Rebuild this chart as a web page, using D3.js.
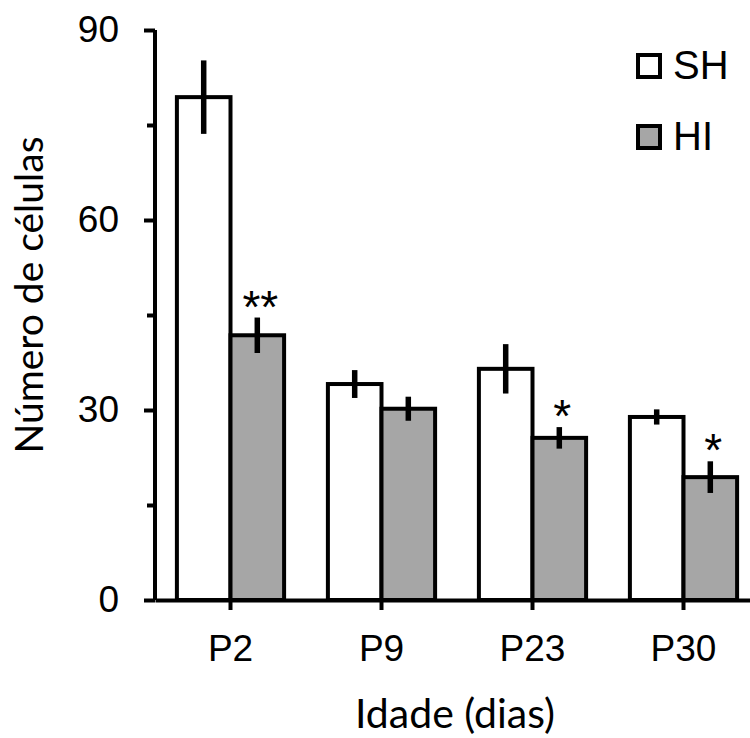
<!DOCTYPE html>
<html>
<head>
<meta charset="utf-8">
<script src="https://cdn.jsdelivr.net/npm/d3@7"></script>
<style>
  html, body { margin: 0; padding: 0; background: #fff; }
  svg { display: block; }
</style>
</head>
<body>
<svg id="chart" width="750" height="738"></svg>
<script>
const categories = ["P2", "P9", "P23", "P30"];
const seriesNames = ["SH", "HI"];
const shValues = [79.4, 34.1, 36.5, 28.9];
const hiValues = [41.8, 30.2, 25.6, 19.4];
const shErrors = [5.8, 2.2, 3.9, 1.2];
const hiErrors = [2.8, 1.9, 1.7, 2.5];
const hiSignificance = ["**", "", "*", "*"];
const yMajorTicks = [0, 30, 60, 90];
const yMinorTicks = [15, 45, 75];

const svg = d3.select("#chart");

const x0 = d3.scaleBand().domain(categories).range([155, 759]).paddingInner(0.29).paddingOuter(0.145);
const x1 = d3.scaleBand().domain(seriesNames).range([0, x0.bandwidth()]);
const y = d3.scaleLinear().domain([0, 90]).range([600, 30]);
const fills = { SH: "#ffffff", HI: "#a6a6a6" };

const rows = categories.map((c, i) => ({
  cat: c,
  bars: [
    { s: "SH", v: shValues[i], e: shErrors[i], sig: "" },
    { s: "HI", v: hiValues[i], e: hiErrors[i], sig: hiSignificance[i] }
  ]
}));

const g = svg.append("g");

const groups = g.selectAll("g.grp").data(rows).enter().append("g")
  .attr("class", "grp")
  .attr("transform", d => `translate(${x0(d.cat)},0)`);

groups.selectAll("rect").data(d => d.bars).enter().append("rect")
  .attr("x", d => x1(d.s))
  .attr("width", x1.bandwidth())
  .attr("y", d => y(d.v))
  .attr("height", d => y(0) - y(d.v))
  .attr("fill", d => fills[d.s])
  .attr("stroke", "#000")
  .attr("stroke-width", 4);

groups.selectAll("line.err").data(d => d.bars).enter().append("line")
  .attr("class", "err")
  .attr("x1", d => x1(d.s) + x1.bandwidth() / 2)
  .attr("x2", d => x1(d.s) + x1.bandwidth() / 2)
  .attr("y1", d => y(d.v + d.e))
  .attr("y2", d => y(d.v - d.e))
  .attr("stroke", "#000")
  .attr("stroke-width", 5.5);

groups.selectAll("text.sig").data(d => d.bars.filter(b => b.sig)).enter().append("text")
  .attr("class", "sig")
  .attr("x", d => x1(d.s) + x1.bandwidth() / 2 + 3)
  .attr("y", d => y(d.v + d.e) + 5)
  .attr("text-anchor", "middle")
  .attr("font-family", "Liberation Sans, Arial, sans-serif")
  .attr("font-size", 46)
  .text(d => d.sig);

const yAxis = g.append("g").attr("transform", "translate(155,0)")
  .call(d3.axisLeft(y).tickValues(yMajorTicks).tickSize(11).tickPadding(25).tickSizeOuter(0));
yAxis.select(".domain").attr("stroke-width", 4).attr("d", `M0,${y(90)}V${y(0)}`);
yAxis.selectAll(".tick line").attr("stroke-width", 4);
yAxis.selectAll(".tick text")
  .attr("font-family", "Liberation Sans, Arial, sans-serif")
  .attr("font-size", 37).attr("fill", "#000");

const yMinor = g.append("g").attr("transform", "translate(155,0)")
  .call(d3.axisLeft(y).tickValues(yMinorTicks).tickSize(8).tickFormat(""));
yMinor.select(".domain").remove();
yMinor.selectAll(".tick line").attr("stroke-width", 4);

const xAxis = g.append("g").attr("transform", "translate(0,600)")
  .call(d3.axisBottom(x0).tickSize(10).tickPadding(25).tickSizeOuter(0));
xAxis.select(".domain").attr("stroke-width", 4);
xAxis.selectAll(".tick line").attr("stroke-width", 4);
xAxis.selectAll(".tick text")
  .attr("font-family", "Liberation Sans, Arial, sans-serif")
  .attr("font-size", 37).attr("fill", "#000");

svg.append("text")
  .attr("x", 455).attr("y", 728)
  .attr("text-anchor", "middle")
  .attr("font-family", "Lato, 'Open Sans', sans-serif")
  .attr("font-size", 41)
  .text("Idade (dias)");

svg.append("text")
  .attr("transform", "translate(43,295) rotate(-90)")
  .attr("text-anchor", "middle")
  .attr("font-family", "Lato, 'Open Sans', sans-serif")
  .attr("font-size", 39)
  .text("Número de células");

const legend = svg.append("g").attr("transform", "translate(638,0)");
const legendItems = legend.selectAll("g").data(seriesNames).enter().append("g")
  .attr("transform", (d, i) => `translate(0,${[66, 137][i]})`);
legendItems.append("rect")
  .attr("x", 0).attr("y", -11).attr("width", 22).attr("height", 22)
  .attr("fill", d => fills[d]).attr("stroke", "#000").attr("stroke-width", 4);
legendItems.append("text")
  .attr("x", 35).attr("y", 13)
  .attr("font-family", "Liberation Sans, Arial, sans-serif")
  .attr("font-size", 40)
  .text(d => d);
</script>
</body>
</html>
